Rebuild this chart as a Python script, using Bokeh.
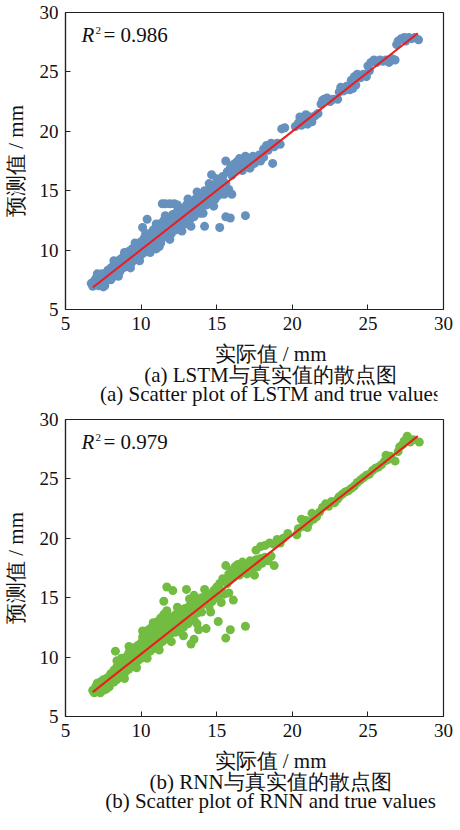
from bokeh.plotting import figure
from bokeh.layouts import column
from bokeh.models import Label, FixedTicker, Range1d
from bokeh.embed import file_html
from bokeh.resources import INLINE

# ---------------- data ----------------
ticks = [5, 10, 15, 20, 25, 30]

# (true value, predicted value) pairs, LSTM
lstm_points = [
    (6.7, 7.2), (6.8, 6.95), (6.9, 7.4), (7.0, 7.1), (7.0, 7.6), (7.1, 7.3), (7.2, 7.0), (7.2, 7.8),
    (7.3, 7.5), (7.4, 7.2), (7.4, 8.0), (7.5, 7.7), (7.6, 7.0), (7.6, 7.4), (7.7, 8.1), (7.8, 7.6),
    (7.8, 8.3), (7.9, 7.9), (8.0, 7.5), (8.0, 8.5), (7.1, 8.0), (7.5, 6.9),
    (8.1, 8.1), (8.2, 7.8), (8.2, 8.8), (8.3, 8.4), (8.4, 9.0), (8.4, 8.0), (8.5, 8.6), (8.6, 9.2),
    (8.6, 8.2), (8.7, 8.8), (8.8, 9.4), (8.8, 8.5), (8.9, 9.0), (9.0, 8.6), (9.0, 9.6), (9.1, 9.2),
    (9.2, 8.8), (9.2, 9.9), (9.3, 9.4), (9.4, 9.0), (9.4, 10.1), (9.5, 9.6), (9.6, 9.2), (9.6, 10.3),
    (9.7, 9.8), (9.8, 9.4), (9.8, 10.5), (9.9, 10.0), (10.0, 9.6), (10.0, 10.7),
    (8.2, 9.1), (8.5, 7.8), (8.9, 9.8), (9.3, 8.5), (9.6, 10.6), (9.9, 9.1),
    (10.1, 10.2), (10.1, 11.9), (10.2, 9.8), (10.2, 11.0), (10.3, 10.4), (10.4, 12.6), (10.4, 11.2),
    (10.5, 10.0), (10.5, 10.7), (10.6, 11.4), (10.7, 10.3), (10.7, 11.0), (10.8, 11.7), (10.9, 10.6),
    (10.9, 11.2), (11.0, 10.1), (11.0, 11.8), (11.1, 10.9), (11.2, 11.4), (11.2, 12.2), (11.3, 10.6),
    (11.3, 11.7), (11.4, 12.0), (11.4, 13.9), (11.5, 11.1), (11.5, 12.5), (11.6, 11.6), (11.6, 13.9),
    (11.7, 12.1), (11.8, 11.2), (11.8, 12.7), (11.9, 11.8), (11.9, 13.9), (12.0, 12.3), (12.0, 11.4),
    (12.1, 13.0), (12.2, 13.9),
    (10.3, 11.4), (10.6, 9.8), (11.0, 12.2), (11.2, 10.3), (11.6, 12.9), (11.9, 10.9),
    (12.2, 12.0), (12.3, 12.6), (12.3, 11.7), (12.4, 13.3), (12.5, 12.2), (12.6, 12.9), (12.6, 11.9),
    (12.7, 13.5), (12.8, 12.5), (12.9, 13.1), (12.9, 12.2), (13.0, 13.8), (13.1, 12.8), (13.2, 13.4),
    (13.2, 12.5), (13.3, 14.0), (13.4, 13.0), (13.5, 13.6), (13.5, 12.8), (13.6, 14.3), (13.7, 13.3),
    (13.8, 13.9), (13.8, 14.7), (13.9, 13.1), (14.0, 14.5), (14.0, 13.6), (14.1, 14.1), (14.2, 12.0),
    (14.2, 15.0), (14.3, 13.8), (14.4, 14.4),
    (12.4, 13.8), (12.7, 11.6), (13.1, 14.3), (13.3, 12.0), (13.7, 14.9), (14.1, 13.1),
    (14.5, 15.1), (14.6, 14.0), (14.66, 16.35), (14.7, 14.7), (14.8, 15.4), (14.9, 14.3), (15.0, 15.0),
    (15.0, 16.0), (15.1, 14.6), (15.2, 11.9), (15.2, 15.6), (15.3, 15.0), (15.4, 16.2), (15.5, 14.7),
    (15.6, 12.8), (15.6, 17.5), (15.6, 15.6), (15.7, 16.6), (15.8, 15.1), (15.9, 12.7), (15.9, 16.9),
    (16.0, 14.7), (16.0, 16.3), (16.9, 12.9), (14.5, 15.6), (14.8, 13.7),
    (16.1, 17.2), (16.2, 16.6), (16.3, 17.4), (16.4, 16.9), (16.5, 17.7), (16.6, 17.1), (16.7, 16.7),
    (16.8, 17.5), (16.9, 17.9), (17.0, 17.2), (17.1, 17.7), (17.2, 16.9), (17.3, 17.5), (17.4, 17.9),
    (17.5, 17.3), (17.6, 17.7), (17.8, 18.0), (17.9, 17.5), (18.1, 17.8), (18.7, 17.3),
    (18.1, 18.5), (18.3, 18.8), (18.4, 18.4), (18.6, 19.0), (18.8, 18.7), (19.0, 19.0), (19.2, 18.9),
    (19.3, 20.2), (19.5, 20.3),
    (20.2, 20.4), (20.4, 20.7), (20.5, 21.2), (20.6, 20.5), (20.8, 21.0), (20.9, 21.4), (21.0, 20.6),
    (21.2, 21.2), (21.3, 20.8), (21.5, 21.3), (21.7, 21.5), (21.9, 22.3), (22.1, 22.7),
    (22.0, 22.6), (22.3, 22.8), (22.5, 22.5), (22.7, 22.7), (23.0, 22.7), (23.1, 23.3), (23.2, 23.7),
    (23.4, 23.4), (23.6, 23.8), (23.8, 23.5), (24.0, 23.6), (24.2, 23.9),
    (23.9, 24.3), (24.1, 24.6), (24.3, 24.8), (24.5, 24.5), (24.7, 24.8), (24.9, 24.6), (25.0, 25.5),
    (25.1, 25.1), (25.2, 25.8), (25.4, 26.0), (25.6, 25.8), (25.8, 26.0), (26.0, 25.9), (26.2, 26.0),
    (26.4, 25.8), (26.6, 26.1), (26.8, 26.0),
    (26.9, 27.3), (27.0, 27.6), (27.2, 27.8), (27.4, 27.9), (27.5, 27.6), (27.7, 27.9), (27.9, 27.8),
    (28.1, 27.9), (28.35, 27.7),
]

# (true value, predicted value) pairs, RNN
rnn_points = [
    (6.8, 7.2), (6.9, 7.0), (7.0, 7.5), (7.0, 7.1), (7.1, 7.8), (7.2, 7.3), (7.3, 7.0), (7.3, 7.9),
    (7.4, 7.5), (7.5, 7.2), (7.5, 8.1), (7.6, 7.7), (7.7, 7.3), (7.7, 8.2), (7.8, 7.8), (7.9, 8.4),
    (7.9, 7.5), (8.0, 8.0), (8.0, 8.6),
    (8.1, 8.3), (8.2, 7.9), (8.2, 8.9), (8.3, 10.5), (8.3, 8.5), (8.4, 9.2), (8.4, 8.1), (8.5, 8.8),
    (8.6, 9.4), (8.6, 8.4), (8.7, 9.0), (8.7, 9.9), (8.8, 8.6), (8.8, 9.6), (8.9, 9.2), (9.0, 8.8),
    (9.0, 10.0), (9.1, 9.5), (9.2, 9.0), (9.2, 10.4), (9.3, 9.7), (9.4, 9.2), (9.4, 10.6), (9.5, 10.0),
    (9.6, 9.5), (9.6, 10.8), (9.7, 10.2), (9.8, 9.7), (9.8, 11.0), (9.9, 10.4), (10.0, 9.9), (10.0, 11.2),
    (8.4, 9.7), (8.9, 8.2), (9.2, 10.9), (9.7, 9.1),
    (10.1, 10.5), (10.1, 11.7), (10.2, 10.1), (10.2, 11.0), (10.3, 10.7), (10.3, 12.0), (10.4, 10.3),
    (10.4, 11.4), (10.5, 10.9), (10.5, 12.3), (10.6, 10.5), (10.6, 11.7), (10.7, 11.1), (10.7, 12.5),
    (10.8, 10.7), (10.8, 11.9), (10.9, 11.3), (10.9, 12.8), (11.0, 10.9), (11.0, 12.1), (11.1, 11.5),
    (11.1, 13.0), (11.2, 11.1), (11.2, 12.4), (11.3, 11.8), (11.3, 13.3), (11.4, 11.3), (11.4, 12.7),
    (11.5, 14.7), (11.5, 12.0), (11.6, 11.5), (11.6, 13.5), (11.7, 15.9), (11.7, 13.9), (11.7, 12.3),
    (11.8, 11.8), (11.8, 13.0), (11.9, 12.6), (12.0, 12.0), (12.0, 13.4), (12.1, 15.6),
    (10.1, 12.2), (10.4, 9.9), (10.8, 12.9), (11.2, 10.6), (11.5, 13.6), (12.0, 11.3),
    (12.1, 12.3), (12.2, 12.9), (12.3, 12.1), (12.3, 13.6), (12.4, 12.6), (12.5, 13.2), (12.5, 12.2),
    (12.6, 13.9), (12.7, 12.9), (12.8, 13.5), (12.8, 12.5), (12.9, 14.1), (13.0, 15.7), (13.0, 13.2),
    (13.1, 12.8), (13.1, 13.8), (13.2, 14.3), (13.3, 11.1), (13.3, 13.4), (13.4, 14.0), (13.5, 15.2),
    (13.5, 11.5), (13.5, 13.1), (13.6, 14.5), (13.7, 13.7), (13.8, 14.7), (13.8, 12.3), (13.9, 14.2),
    (14.0, 13.8), (14.0, 15.0), (14.1, 14.5), (14.3, 12.4), (14.3, 15.2), (14.4, 14.8),
    (12.4, 14.2), (12.8, 11.8), (13.2, 14.9), (13.7, 12.8), (14.2, 15.7),
    (14.5, 14.3), (14.6, 15.3), (14.7, 14.7), (14.8, 15.6), (14.9, 15.0), (15.0, 15.9), (15.1, 13.0),
    (15.1, 15.2), (15.2, 16.2), (15.3, 15.6), (15.4, 16.6), (15.5, 15.3), (15.6, 11.6), (15.6, 17.7),
    (15.7, 16.2), (15.8, 17.0), (15.9, 12.3), (15.9, 16.5), (16.1, 14.8), (16.9, 12.6),
    (14.6, 13.8), (15.3, 14.6), (15.8, 15.4),
    (16.0, 17.3), (16.1, 16.7), (16.2, 17.6), (16.3, 17.0), (16.4, 17.8), (16.5, 16.9), (16.6, 17.4),
    (16.7, 18.0), (16.8, 17.2), (16.9, 17.7), (17.0, 17.0), (17.1, 17.5), (17.2, 18.1), (17.3, 17.3),
    (17.4, 17.8), (17.5, 16.9), (17.6, 18.2), (17.7, 17.6), (17.9, 18.3), (18.0, 17.9), (18.2, 18.4),
    (18.4, 18.1), (18.6, 18.5), (18.8, 17.7),
    (17.6, 19.0), (17.9, 19.3), (18.2, 19.4), (18.5, 19.6), (18.8, 19.5), (19.0, 19.9), (19.2, 19.6),
    (19.4, 20.0), (19.7, 20.4),
    (20.3, 20.3), (20.4, 20.8), (20.6, 21.6), (20.7, 21.0), (20.9, 21.5), (21.0, 20.9), (21.1, 21.3),
    (21.3, 22.1), (21.4, 21.6), (21.6, 21.8), (21.8, 22.2),
    (22.0, 22.6), (22.2, 22.9), (22.4, 22.7), (22.6, 23.1), (22.8, 23.0), (23.0, 23.3), (23.1, 23.5),
    (23.3, 23.7), (23.5, 23.9), (23.7, 24.0), (23.9, 24.2), (24.1, 24.4),
    (24.3, 24.7), (24.5, 24.9), (24.7, 25.1), (24.9, 25.3), (25.1, 25.4), (25.3, 25.7), (25.5, 25.9),
    (25.7, 26.0), (25.9, 26.2), (26.1, 26.5), (26.2, 27.0), (26.3, 26.6), (26.5, 26.9), (26.8, 26.5),
    (27.0, 27.3), (27.1, 27.7), (27.3, 27.9), (27.4, 28.2), (27.6, 28.6), (27.8, 28.1), (28.0, 28.3),
    (28.4, 28.1),
]

lstm_fit_x = [6.8, 28.3]
lstm_fit_y = [6.85, 28.25]
rnn_fit_x = [6.8, 28.3]
rnn_fit_y = [7.05, 28.6]

lstm_r2 = "0.986"
rnn_r2 = "0.979"

x_title = "实际值 / mm"
y_title = "预测值 / mm"

FONT = "Liberation Serif"
INK = "#111111"
W = 450
CAP_H = 66


def make_panel(points, fit_x, fit_y, color, r2, top, frame_h):
    p = figure(frame_width=378, frame_height=frame_h, x_range=Range1d(5, 30), y_range=Range1d(5, 30),
               output_backend="svg", toolbar_location=None,
               min_border_left=59, min_border_right=13, min_border_top=top, min_border_bottom=32)
    p.grid.visible = False
    p.background_fill_color = "white"
    p.border_fill_color = "white"
    p.outline_line_color = "#222222"
    p.outline_line_width = 1.2
    p.outline_line_alpha = 1.0
    for ax in (p.xaxis[0], p.yaxis[0]):
        ax.ticker = FixedTicker(ticks=ticks)
        ax.major_tick_in = 5
        ax.major_tick_out = 0
        ax.minor_tick_line_color = None
        ax.axis_line_color = "#222222"
        ax.axis_line_width = 1.2
        ax.major_tick_line_color = "#222222"
        ax.major_label_text_font = FONT
        ax.major_label_text_font_size = "19px"
        ax.major_label_text_color = INK
        ax.axis_label_text_font = FONT
        ax.axis_label_text_font_size = "21px"
        ax.axis_label_text_font_style = "normal"
        ax.axis_label_text_color = INK
    p.yaxis.axis_label = y_title
    p.xaxis.major_label_standoff = 7
    p.yaxis.major_label_standoff = 7
    p.yaxis.axis_label_standoff = 9

    xs = [a for a, b in points]
    ys = [b for a, b in points]
    p.scatter(xs, ys, size=9, fill_color=color, line_color=None)
    p.line(fit_x, fit_y, line_color="#ee1c1c", line_width=2)

    p.add_layout(Label(x=6.05, y=28.1, text="R", text_font=FONT, text_font_size="21px",
                       text_font_style="italic", text_baseline="middle", text_color=INK))
    p.add_layout(Label(x=6.05, y=28.1, x_offset=14, y_offset=5, text="2", text_font=FONT,
                       text_font_size="11px", text_baseline="middle", text_color=INK))
    p.add_layout(Label(x=6.05, y=28.1, x_offset=22, text="= " + r2, text_font=FONT,
                       text_font_size="21px", text_baseline="middle", text_color=INK))
    return p


def make_caption(cap1, cap2):
    # a strip below each chart holding the x-axis title and the two caption lines
    c = figure(width=W, height=CAP_H, x_range=Range1d(0, W), y_range=Range1d(0, CAP_H),
               output_backend="svg", toolbar_location=None, min_border=0,
               x_axis_type=None, y_axis_type=None)
    c.grid.visible = False
    c.outline_line_color = None
    c.background_fill_color = "white"
    c.border_fill_color = "white"
    cx = 59 + 378 / 2
    for txt, yy in ((x_title, CAP_H - 12), (cap1, CAP_H - 33), (cap2, 14)):
        c.add_layout(Label(x=cx, y=yy, text=txt, text_font=FONT, text_font_size="21px",
                           text_align="center", text_baseline="middle", text_color=INK))
    return c


p1 = make_panel(lstm_points, lstm_fit_x, lstm_fit_y, "#6690bd", lstm_r2, 12, 297)
c1 = make_caption("(a) LSTM与真实值的散点图", "(a) Scatter plot of LSTM and true values")
p2 = make_panel(rnn_points, rnn_fit_x, rnn_fit_y, "#72bc42", rnn_r2, 12, 297)
c2 = make_caption("(b) RNN与真实值的散点图", "(b) Scatter plot of RNN and true values")

layout = column(p1, c1, p2, c2, spacing=0)
open("out.html", "w").write(file_html(layout, INLINE))
